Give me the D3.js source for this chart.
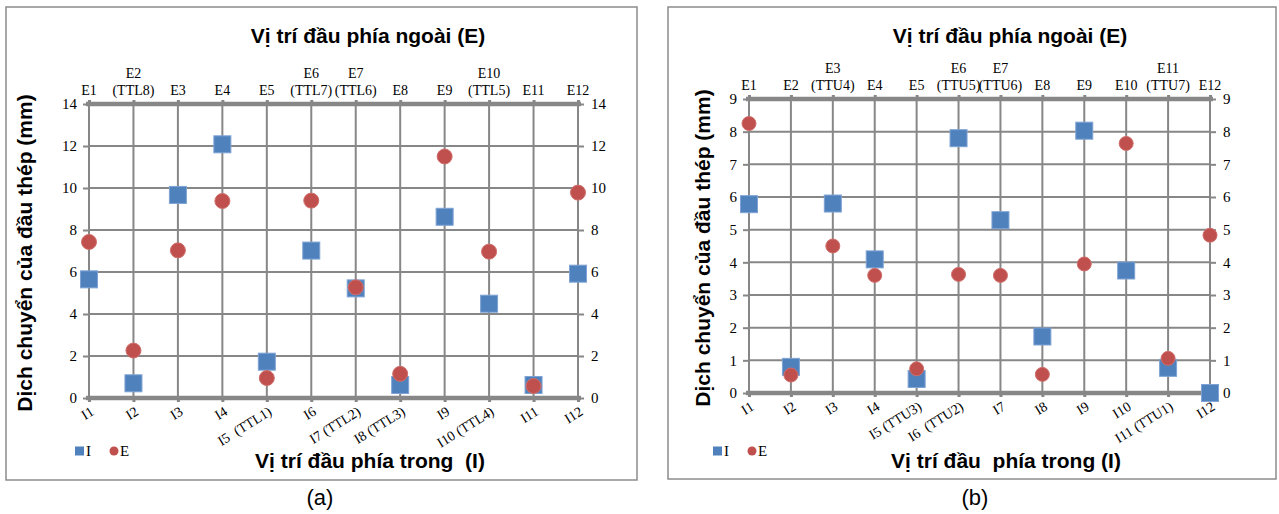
<!DOCTYPE html>
<html>
<head>
<meta charset="utf-8">
<title>Dịch chuyển của đầu thép</title>
<script src="https://cdn.jsdelivr.net/npm/d3@7/dist/d3.min.js"></script>
<style>
  body { margin: 0; background: #fff; }
  svg text { white-space: pre; }
</style>
</head>
<body>
<svg id="mainsvg" width="1279" height="514"></svg>
<script>
// ---- data (a) ----
const topLabelsA = [["E1"], ["E2", "(TTL8)"], ["E3"], ["E4"], ["E5"], ["E6", "(TTL7)"], ["E7", "(TTL6)"], ["E8"], ["E9"], ["E10", "(TTL5)"], ["E11"], ["E12"]];
const bottomLabelsA = ["I1", "I2", "I3", "I4", "I5  (TTL1)", "I6", "I7 (TTL2)", "I8 (TTL3)", "I9", "I10 (TTL4)", "I11", "I12"];
const valuesA_I = [5.65, 0.7, 9.67, 12.08, 1.73, 7.02, 5.22, 0.62, 8.63, 4.49, 0.62, 5.92];
const valuesA_E = [7.43, 2.26, 7.03, 9.38, 0.95, 9.4, 5.27, 1.15, 11.5, 6.97, 0.57, 9.78];
const yTicksA = [0, 2, 4, 6, 8, 10, 12, 14];

// ---- data (b) ----
const topLabelsB = [["E1"], ["E2"], ["E3", "(TTU4)"], ["E4"], ["E5"], ["E6", "(TTU5)"], ["E7", "(TTU6)"], ["E8"], ["E9"], ["E10"], ["E11", "(TTU7)"], ["E12"]];
const bottomLabelsB = ["I1", "I2", "I3", "I4", "I5 (TTU3)", "I6  (TTU2)", "I7", "I8", "I9", "I10", "I11 (TTU1)", "I12"];
const valuesB_I = [5.78, 0.8, 5.8, 4.09, 0.43, 7.8, 5.29, 1.73, 8.03, 3.75, 0.77, 0.0];
const valuesB_E = [8.25, 0.55, 4.5, 3.6, 0.74, 3.63, 3.6, 0.57, 3.95, 7.64, 1.06, 4.83];
const yTicksB = [0, 1, 2, 3, 4, 5, 6, 7, 8, 9];

const titleTop = "Vị trí đầu phía ngoài (E)";
const yTitle = "Dịch chuyển của đầu thép (mm)";

const svg = d3.select('#mainsvg');
const gridColor = '#878787';
const blue = '#4F81BD', red = '#C0504D';
const serif = '"Liberation Serif", "Times New Roman", serif';
const sans = '"Liberation Sans", Arial, sans-serif';

function drawPanel(p) {
    const g = svg.append('g');

    // panel frame
    g.append('rect')
        .attr('x', p.frame[0]).attr('y', p.frame[1])
        .attr('width', p.frame[2] - p.frame[0]).attr('height', p.frame[3] - p.frame[1])
        .attr('fill', '#fff').attr('stroke', '#8c8c8c').attr('stroke-width', 1.5);

    const n = p.top.length;
    const x = d3.scalePoint().domain(d3.range(n)).range([p.left, p.right]);
    const y = d3.scaleLinear().domain([0, d3.max(p.yTicks)]).range([p.bottom, p.topY]);

    // horizontal grid
    g.append('g').selectAll('line').data(p.yTicks).enter().append('line')
        .attr('x1', p.left).attr('x2', p.right)
        .attr('y1', d => y(d)).attr('y2', d => y(d))
        .attr('stroke', gridColor).attr('stroke-width', 2);

    // vertical grid
    g.append('g').selectAll('line').data(d3.range(n)).enter().append('line')
        .attr('x1', d => x(d)).attr('x2', d => x(d))
        .attr('y1', p.topY).attr('y2', p.bottom)
        .attr('stroke', gridColor).attr('stroke-width', 2);

    // y axes, both sides
    const yl = g.append('g').attr('transform', `translate(${p.left},0)`)
        .call(d3.axisLeft(y).tickValues(p.yTicks).tickSize(6).tickPadding(6));
    const yr = g.append('g').attr('transform', `translate(${p.right},0)`)
        .call(d3.axisRight(y).tickValues(p.yTicks).tickSize(6).tickPadding(7));
    [yl, yr].forEach(a => {
        a.select('.domain').remove();
        a.selectAll('line').attr('stroke', gridColor).attr('stroke-width', 2);
        a.selectAll('text').attr('font-family', serif).attr('font-size', 15).attr('fill', '#000');
    });

    // top and bottom axis lines with small ticks
    const xt = g.append('g').attr('transform', `translate(0,${p.topY})`)
        .call(d3.axisTop(x).tickSize(4).tickFormat(''));
    const xb = g.append('g').attr('transform', `translate(0,${p.bottom})`)
        .call(d3.axisBottom(x).tickSize(4).tickFormat(''));
    [xt, xb].forEach(a => {
        a.select('.domain').attr('d', `M${p.left - 3},0H${p.right + 3}`)
            .attr('stroke', gridColor).attr('stroke-width', 4.5);
        a.selectAll('line').attr('stroke', gridColor).attr('stroke-width', 3);
    });

    // top category labels (multi-line)
    const tl = g.append('g').selectAll('text').data(p.top).enter().append('text')
        .attr('font-family', serif).attr('font-size', 14).attr('text-anchor', 'middle')
        .attr('x', (d, i) => x(i))
        .attr('y', d => p.topY - 9 - (d.length - 1) * 17);
    tl.selectAll('tspan').data(d => d).enter().append('tspan')
        .attr('x', function () { return d3.select(this.parentNode).attr('x'); })
        .attr('dy', (d, i) => i === 0 ? 0 : 17)
        .text(d => d);

    // bottom rotated labels
    g.append('g').selectAll('text').data(p.bottomLabels).enter().append('text')
        .attr('font-family', serif).attr('font-size', 14).attr('text-anchor', 'end')
        .attr('transform', (d, i) => `translate(${x(i) + 6},${p.bottom + 16}) rotate(-32)`)
        .text(d => d);

    // markers: squares first, circles on top
    const s = 17;
    g.append('g').selectAll('rect').data(p.I).enter().append('rect')
        .attr('x', (d, i) => x(i) - s / 2).attr('y', d => y(d) - s / 2)
        .attr('width', s).attr('height', s)
        .attr('fill', blue).attr('stroke', '#7ea3d4').attr('stroke-width', 1);
    g.append('g').selectAll('circle').data(p.E).enter().append('circle')
        .attr('cx', (d, i) => x(i)).attr('cy', d => y(d)).attr('r', p.r)
        .attr('fill', red).attr('stroke', '#cf6f6c').attr('stroke-width', 1);

    // titles
    g.append('text').attr('x', p.titleX).attr('y', 43)
        .attr('text-anchor', 'middle').attr('font-family', sans).attr('font-weight', 'bold')
        .attr('font-size', 21).text(titleTop);
    g.append('text').attr('x', p.xTitleX).attr('y', 468)
        .attr('text-anchor', 'middle').attr('font-family', sans).attr('font-weight', 'bold')
        .attr('font-size', 21).text(p.xTitle);
    g.append('text')
        .attr('transform', `translate(${p.yTitleX},${(p.topY + p.bottom) / 2 + 2}) rotate(-90)`)
        .attr('text-anchor', 'middle').attr('font-family', sans).attr('font-weight', 'bold')
        .attr('font-size', 21).text(yTitle);

    // legend
    const lg = g.append('g').attr('transform', `translate(${p.legendX},451)`);
    lg.append('rect').attr('x', 0).attr('y', -4.5).attr('width', 9).attr('height', 9).attr('fill', blue);
    lg.append('text').attr('x', 11).attr('y', 5).attr('font-family', serif).attr('font-size', 15).text('I');
    lg.append('circle').attr('cx', 39).attr('cy', 0).attr('r', 4.5).attr('fill', red);
    lg.append('text').attr('x', 45).attr('y', 5).attr('font-family', serif).attr('font-size', 15).text('E');

    // panel caption
    g.append('text').attr('x', p.captionX).attr('y', 505)
        .attr('text-anchor', 'middle').attr('font-family', sans).attr('font-size', 22)
        .text(p.caption);
}

drawPanel({
    frame: [6, 7, 637, 480], left: 89, right: 578, topY: 104, bottom: 398,
    top: topLabelsA, bottomLabels: bottomLabelsA, I: valuesA_I, E: valuesA_E, yTicks: yTicksA,
    r: 7.5, titleX: 368, xTitleX: 370, xTitle: "Vị trí đầu phía trong  (I)", yTitleX: 32,
    legendX: 75, captionX: 320, caption: "(a)"
});
drawPanel({
    frame: [668, 7, 1276, 479], left: 749, right: 1210, topY: 99, bottom: 393,
    top: topLabelsB, bottomLabels: bottomLabelsB, I: valuesB_I, E: valuesB_E, yTicks: yTicksB,
    r: 7, titleX: 1010, xTitleX: 1006, xTitle: "Vị trí đầu  phía trong (I)", yTitleX: 710,
    legendX: 713, captionX: 975, caption: "(b)"
});
</script>
</body>
</html>
